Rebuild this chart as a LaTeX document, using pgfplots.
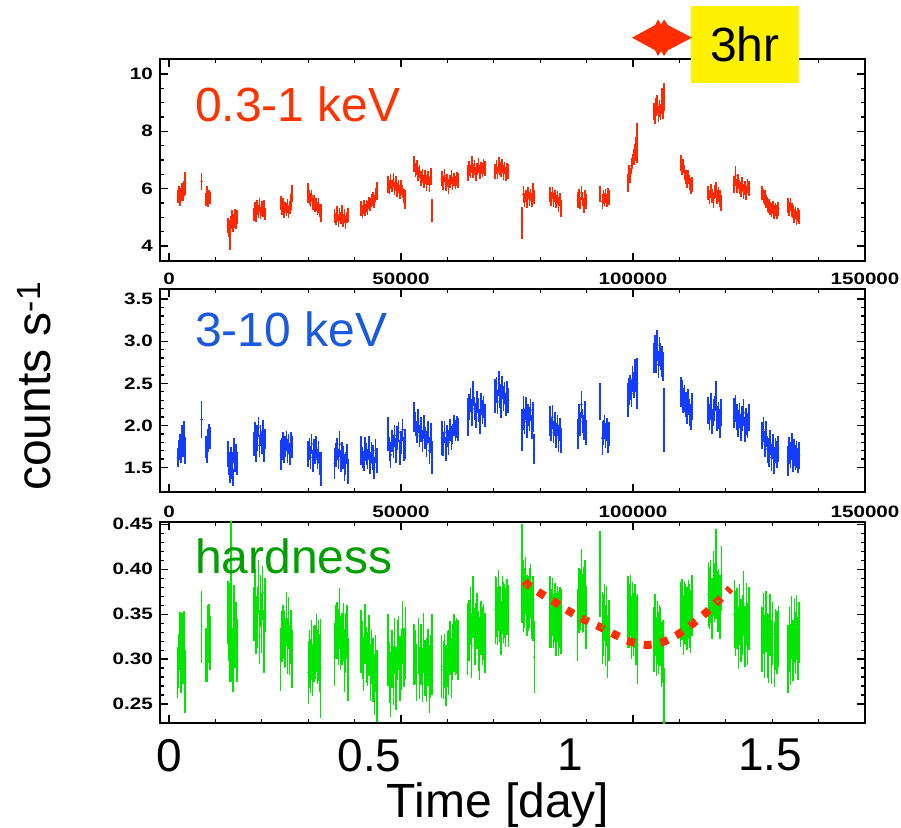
\documentclass[border=0pt]{standalone}
\usepackage{fontspec}
\setmainfont{Liberation Sans}
\newfontfamily\tickfont[FakeStretch=1.25]{Liberation Sans Bold}
\usepackage{pgfplots}
\usepackage{pgfplotstable}
\pgfplotsset{compat=1.18}
\definecolor{softred}{RGB}{255,40,0}
\definecolor{textred}{RGB}{255,51,0}
\definecolor{hardblue}{RGB}{20,60,255}
\definecolor{textblue}{RGB}{25,90,225}
\definecolor{hrgreen}{RGB}{0,230,0}
\definecolor{textgreen}{RGB}{0,160,0}
\definecolor{curvered}{RGB}{255,45,0}

\pgfplotstableread{
t s se h he r re
1900 5.72 0.22 1.62 0.11 0.285 0.028
2120 5.85 0.24 1.71 0.12 0.298 0.030
2340 5.61 0.21 1.78 0.12 0.320 0.032
2560 5.80 0.23 1.66 0.11 0.289 0.027
2780 5.95 0.25 1.88 0.13 0.318 0.033
3000 5.78 0.22 1.74 0.12 0.301 0.029
3220 6.02 0.26 1.92 0.13 0.322 0.031
3440 6.18 0.40 1.70 0.16 0.275 0.035
7040 6.25 0.30 2.07 0.22 0.336 0.040
8000 5.62 0.22 1.74 0.13 0.305 0.030
8210 5.80 0.30 1.66 0.10 0.290 0.015
8420 5.55 0.18 1.82 0.14 0.328 0.032
8630 5.76 0.20 1.90 0.12 0.333 0.028
8840 5.68 0.20 1.85 0.13 0.318 0.030
12700 4.72 0.25 1.66 0.15 0.352 0.035
12917 4.60 0.30 1.55 0.14 0.338 0.040
13134 4.35 0.50 1.48 0.16 0.330 0.055
13351 4.82 0.22 1.62 0.13 0.395 0.060
13568 4.98 0.26 1.52 0.16 0.305 0.030
13785 4.70 0.22 1.38 0.10 0.298 0.035
14002 4.88 0.25 1.70 0.15 0.345 0.038
14219 5.02 0.28 1.58 0.13 0.320 0.030
14436 4.80 0.20 1.66 0.12 0.335 0.028
14650 5.00 0.24 1.55 0.14 0.310 0.035
18300 5.10 0.22 1.78 0.14 0.350 0.030
18540 5.28 0.24 1.92 0.12 0.372 0.028
18780 5.05 0.20 1.70 0.13 0.338 0.032
19020 5.35 0.25 1.85 0.15 0.346 0.034
19260 5.20 0.22 1.98 0.12 0.380 0.030
19500 5.42 0.24 1.76 0.13 0.325 0.030
19740 5.15 0.20 1.88 0.12 0.365 0.029
19980 5.30 0.26 1.80 0.14 0.340 0.033
20220 5.22 0.22 1.95 0.12 0.374 0.030
20460 5.38 0.24 1.72 0.15 0.320 0.035
20700 5.12 0.20 1.84 0.12 0.360 0.030
24100 5.50 0.26 1.65 0.18 0.300 0.035
24340 5.30 0.22 1.72 0.13 0.325 0.028
24580 5.45 0.24 1.80 0.12 0.330 0.030
24820 5.20 0.22 1.68 0.12 0.322 0.032
25060 5.35 0.20 1.75 0.13 0.318 0.027
25300 5.28 0.22 1.82 0.12 0.345 0.030
25540 5.40 0.24 1.70 0.14 0.315 0.031
25780 5.18 0.20 1.78 0.12 0.340 0.029
26020 5.35 0.22 1.66 0.13 0.310 0.028
26260 5.55 0.28 1.80 0.12 0.325 0.030
26500 5.82 0.30 1.74 0.13 0.300 0.032
30000 5.85 0.35 1.66 0.15 0.285 0.035
30245 5.70 0.26 1.72 0.13 0.300 0.032
30490 5.60 0.24 1.62 0.14 0.292 0.030
30735 5.75 0.22 1.78 0.12 0.310 0.033
30980 5.48 0.24 1.58 0.13 0.288 0.029
31225 5.55 0.22 1.70 0.14 0.306 0.031
31470 5.38 0.20 1.66 0.12 0.308 0.030
31715 5.45 0.24 1.74 0.13 0.318 0.032
31960 5.30 0.22 1.60 0.12 0.302 0.030
32205 5.42 0.25 1.68 0.13 0.310 0.034
32450 5.25 0.22 1.55 0.14 0.296 0.032
32700 5.15 0.30 1.48 0.20 0.290 0.055
35700 5.05 0.25 1.55 0.18 0.305 0.035
35964 4.95 0.22 1.65 0.14 0.330 0.030
36228 5.15 0.24 1.72 0.13 0.332 0.032
36492 4.88 0.20 1.60 0.12 0.325 0.031
36756 5.10 0.22 1.78 0.15 0.345 0.034
37020 4.98 0.20 1.58 0.13 0.318 0.030
37284 5.20 0.24 1.68 0.12 0.322 0.029
37548 4.90 0.22 1.62 0.14 0.330 0.032
37812 5.05 0.24 1.50 0.16 0.298 0.035
38076 4.82 0.22 1.55 0.14 0.318 0.033
38340 5.00 0.20 1.66 0.12 0.330 0.030
38600 5.08 0.24 1.45 0.15 0.288 0.035
41400 5.30 0.26 1.70 0.17 0.320 0.035
41683 5.20 0.22 1.62 0.13 0.310 0.032
41966 5.35 0.24 1.58 0.12 0.295 0.030
42249 5.25 0.20 1.72 0.14 0.328 0.033
42532 5.40 0.22 1.66 0.13 0.305 0.031
42815 5.32 0.24 1.60 0.12 0.300 0.030
43098 5.50 0.22 1.74 0.14 0.315 0.034
43381 5.45 0.24 1.55 0.13 0.285 0.032
43664 5.58 0.22 1.68 0.12 0.302 0.030
43947 5.65 0.24 1.62 0.15 0.288 0.036
44230 5.55 0.22 1.50 0.13 0.272 0.034
44513 5.78 0.24 1.70 0.14 0.295 0.032
44800 5.92 0.32 1.58 0.15 0.270 0.040
47200 6.15 0.30 1.90 0.20 0.310 0.040
47485 6.05 0.24 1.72 0.14 0.285 0.034
47770 6.25 0.26 1.65 0.15 0.272 0.036
48055 6.10 0.22 1.82 0.13 0.300 0.032
48340 6.30 0.24 1.75 0.14 0.282 0.033
48625 6.00 0.22 1.88 0.13 0.315 0.031
48910 6.18 0.26 1.70 0.15 0.278 0.035
49195 5.95 0.24 1.85 0.14 0.310 0.033
49480 6.08 0.22 1.92 0.12 0.318 0.030
49765 5.88 0.25 1.68 0.15 0.290 0.036
50050 6.05 0.26 1.80 0.14 0.300 0.034
50335 5.90 0.24 1.95 0.13 0.330 0.035
50620 5.75 0.25 1.72 0.14 0.302 0.033
50900 5.62 0.32 1.78 0.18 0.318 0.040
52800 6.85 0.28 2.10 0.18 0.305 0.034
53100 6.65 0.24 2.02 0.14 0.302 0.030
53400 6.75 0.26 1.92 0.13 0.285 0.032
53700 6.50 0.24 2.05 0.14 0.315 0.031
54000 6.60 0.22 1.88 0.13 0.285 0.029
54300 6.35 0.26 1.95 0.15 0.305 0.034
54600 6.45 0.24 1.82 0.13 0.282 0.030
54900 6.25 0.22 1.98 0.14 0.318 0.033
55200 6.40 0.24 1.85 0.13 0.290 0.031
55500 6.20 0.28 1.78 0.15 0.288 0.036
55800 6.38 0.24 1.92 0.13 0.302 0.032
56100 6.15 0.26 1.70 0.16 0.278 0.038
56400 6.42 0.30 1.85 0.18 0.292 0.035
56700 5.25 0.40 1.62 0.20 0.305 0.045
58800 6.35 0.26 1.85 0.20 0.292 0.035
59092 6.20 0.24 1.78 0.14 0.288 0.032
59384 6.45 0.22 1.92 0.13 0.298 0.030
59676 6.15 0.24 1.72 0.14 0.282 0.034
59968 6.30 0.22 1.88 0.13 0.300 0.031
60260 6.08 0.26 1.80 0.15 0.296 0.036
60552 6.25 0.22 1.95 0.13 0.312 0.030
60844 6.40 0.24 1.85 0.14 0.290 0.033
61136 6.18 0.22 1.90 0.12 0.308 0.031
61428 6.32 0.24 2.00 0.13 0.318 0.032
61720 6.22 0.22 1.94 0.12 0.312 0.030
62012 6.35 0.24 1.98 0.13 0.315 0.031
62300 6.28 0.26 1.95 0.14 0.310 0.033
64400 6.55 0.28 2.10 0.22 0.322 0.040
64685 6.70 0.26 2.22 0.15 0.332 0.034
64970 6.60 0.24 2.30 0.14 0.348 0.032
65255 6.85 0.30 2.15 0.16 0.315 0.036
65540 6.62 0.24 2.38 0.15 0.358 0.035
65825 6.75 0.26 2.20 0.14 0.325 0.032
66110 6.50 0.24 2.12 0.15 0.328 0.034
66395 6.68 0.22 2.28 0.13 0.342 0.031
66680 6.80 0.26 2.18 0.14 0.320 0.033
66965 6.58 0.24 2.05 0.15 0.312 0.035
67250 6.72 0.22 2.25 0.13 0.335 0.030
67535 6.65 0.24 2.16 0.14 0.326 0.032
67820 6.78 0.26 2.22 0.13 0.330 0.031
68100 6.70 0.25 2.12 0.14 0.318 0.033
70300 6.60 0.26 2.35 0.20 0.355 0.038
70555 6.75 0.24 2.42 0.15 0.358 0.033
70810 6.55 0.22 2.28 0.14 0.348 0.032
71065 6.85 0.26 2.50 0.15 0.365 0.034
71320 6.70 0.24 2.35 0.14 0.350 0.031
71575 6.62 0.22 2.22 0.13 0.335 0.030
71830 6.80 0.24 2.45 0.14 0.360 0.032
72085 6.58 0.26 2.32 0.15 0.352 0.034
72340 6.72 0.22 2.38 0.13 0.354 0.030
72595 6.50 0.24 2.25 0.14 0.346 0.033
72850 6.68 0.22 2.40 0.13 0.358 0.031
73100 6.60 0.25 2.30 0.15 0.348 0.034
76100 4.80 0.55 1.95 0.25 0.395 0.055
76360 5.80 0.30 2.15 0.20 0.370 0.040
76620 5.60 0.24 2.05 0.15 0.368 0.033
76880 5.75 0.22 2.20 0.14 0.382 0.032
77140 5.55 0.24 2.00 0.15 0.360 0.034
77400 5.85 0.22 2.12 0.13 0.362 0.031
77660 5.65 0.24 2.08 0.14 0.368 0.033
77920 5.78 0.22 2.18 0.13 0.376 0.030
78180 5.60 0.24 1.98 0.14 0.354 0.032
78440 5.90 0.30 2.10 0.18 0.356 0.036
78700 5.70 0.25 1.72 0.18 0.302 0.040
82100 5.80 0.26 2.05 0.18 0.352 0.040
82367 5.65 0.24 1.95 0.14 0.345 0.033
82634 5.85 0.22 2.10 0.14 0.358 0.032
82901 5.60 0.24 1.92 0.13 0.342 0.030
83168 5.75 0.22 2.02 0.14 0.352 0.033
83435 5.55 0.24 1.88 0.15 0.338 0.035
83702 5.70 0.22 2.00 0.13 0.350 0.031
83969 5.45 0.26 1.85 0.16 0.340 0.036
84236 5.62 0.24 1.95 0.14 0.346 0.034
84500 5.30 0.30 1.82 0.15 0.342 0.036
88100 5.60 0.28 1.90 0.18 0.338 0.040
88357 5.75 0.24 2.10 0.15 0.365 0.036
88614 5.50 0.22 2.02 0.14 0.366 0.034
88871 5.85 0.26 2.25 0.16 0.384 0.038
89128 5.65 0.24 2.05 0.14 0.362 0.033
89385 5.40 0.26 1.98 0.15 0.366 0.036
89642 5.70 0.24 2.15 0.14 0.376 0.034
89900 5.55 0.25 1.92 0.15 0.346 0.035
92900 5.80 0.28 2.28 0.22 0.395 0.048
93400 5.55 0.26 1.85 0.20 0.335 0.040
93633 5.70 0.24 1.92 0.15 0.338 0.034
93866 5.62 0.22 1.98 0.14 0.352 0.032
94099 5.75 0.24 1.88 0.15 0.326 0.034
94332 5.58 0.22 1.95 0.14 0.348 0.033
94565 5.80 0.24 1.82 0.15 0.314 0.035
94800 5.68 0.26 1.90 0.14 0.332 0.034
98900 6.20 0.30 2.30 0.20 0.352 0.040
99150 6.55 0.28 2.40 0.16 0.348 0.036
99400 6.45 0.26 2.45 0.15 0.360 0.034
99650 6.80 0.28 2.38 0.16 0.335 0.035
99900 6.95 0.26 2.55 0.15 0.352 0.034
100150 7.10 0.28 2.48 0.16 0.338 0.035
100400 7.25 0.30 2.62 0.17 0.348 0.036
100650 7.45 0.35 2.58 0.18 0.332 0.038
100900 7.60 0.70 2.50 0.30 0.322 0.050
104500 8.70 0.30 2.80 0.18 0.322 0.036
104744 8.55 0.28 2.90 0.17 0.338 0.034
104988 8.85 0.30 2.78 0.16 0.314 0.033
105232 8.95 0.32 2.95 0.18 0.330 0.035
105476 8.60 0.28 2.72 0.16 0.318 0.034
105720 8.80 0.30 2.88 0.17 0.326 0.034
105964 8.68 0.28 2.82 0.16 0.325 0.033
106208 9.05 0.45 2.76 0.18 0.305 0.036
106452 8.75 0.32 2.70 0.17 0.308 0.035
106700 9.20 0.50 2.06 0.38 0.250 0.040
110300 6.90 0.28 2.40 0.18 0.350 0.036
110567 6.75 0.26 2.38 0.16 0.355 0.034
110834 6.80 0.24 2.30 0.15 0.338 0.033
111101 6.55 0.26 2.32 0.16 0.352 0.035
111368 6.40 0.24 2.25 0.15 0.350 0.034
111635 6.30 0.26 2.18 0.16 0.345 0.035
111902 6.42 0.24 2.28 0.15 0.355 0.033
112169 6.20 0.26 2.15 0.16 0.348 0.036
112436 6.10 0.28 2.10 0.15 0.342 0.035
112700 6.15 0.26 2.22 0.16 0.360 0.034
116200 5.85 0.26 2.18 0.16 0.372 0.036
116480 5.70 0.24 2.10 0.15 0.368 0.034
116760 5.92 0.26 2.22 0.16 0.375 0.035
117040 5.75 0.24 2.05 0.15 0.356 0.034
117320 5.60 0.26 2.15 0.16 0.384 0.036
117600 5.88 0.24 2.20 0.15 0.374 0.033
117880 5.95 0.28 2.35 0.18 0.395 0.050
118160 5.72 0.24 2.08 0.15 0.364 0.034
118440 5.80 0.26 2.12 0.16 0.365 0.035
118720 5.65 0.30 2.02 0.17 0.358 0.036
119000 5.50 0.28 2.15 0.16 0.390 0.036
121800 6.15 0.30 2.15 0.18 0.350 0.038
122090 6.45 0.35 2.20 0.16 0.340 0.036
122380 6.10 0.24 2.10 0.15 0.345 0.034
122670 6.25 0.26 2.02 0.16 0.324 0.035
122960 6.05 0.24 2.12 0.15 0.350 0.034
123250 5.98 0.26 1.98 0.16 0.332 0.035
123540 6.15 0.24 2.08 0.15 0.338 0.033
123830 5.90 0.26 2.15 0.16 0.362 0.036
124120 6.02 0.24 1.95 0.15 0.325 0.034
124410 5.85 0.26 2.05 0.16 0.350 0.035
124700 6.10 0.24 2.00 0.15 0.328 0.034
125000 6.00 0.26 2.10 0.16 0.345 0.035
127800 5.85 0.26 1.88 0.16 0.322 0.036
128092 5.75 0.24 1.95 0.15 0.340 0.034
128384 5.68 0.26 1.78 0.16 0.314 0.035
128676 5.55 0.24 1.90 0.15 0.342 0.034
128968 5.45 0.26 1.72 0.16 0.315 0.036
129260 5.40 0.24 1.68 0.17 0.312 0.038
129552 5.32 0.22 1.80 0.15 0.338 0.034
129844 5.25 0.24 1.62 0.16 0.308 0.036
130136 5.35 0.22 1.75 0.15 0.328 0.035
130428 5.20 0.24 1.58 0.16 0.305 0.036
130720 5.28 0.22 1.70 0.15 0.322 0.034
131012 5.18 0.24 1.65 0.16 0.318 0.035
131300 5.30 0.24 1.72 0.15 0.325 0.034
133400 5.40 0.26 1.58 0.18 0.300 0.038
133667 5.30 0.24 1.70 0.16 0.322 0.036
133934 5.45 0.22 1.65 0.15 0.305 0.034
134201 5.25 0.24 1.75 0.16 0.335 0.035
134468 5.20 0.22 1.60 0.15 0.310 0.034
134735 5.05 0.24 1.68 0.16 0.332 0.036
135002 5.15 0.22 1.62 0.15 0.318 0.034
135269 4.98 0.24 1.66 0.16 0.335 0.036
135536 5.10 0.22 1.58 0.15 0.312 0.035
135800 5.02 0.24 1.64 0.16 0.330 0.034
}\lc

\pgfplotsset{
  panel/.style={
    scale only axis, width=705pt, anchor=south west,
    xmin=-1940, xmax=150000,
    xtick={0,50000,100000,150000}, minor x tick num=4,
    scaled x ticks=false, scaled y ticks=false,
    tick align=inside,
    xtick pos=both, ytick pos=both,
    xticklabel pos=bottom, yticklabel pos=left,
    axis line style={line width=1.8pt},
    every tick/.style={black, line width=1.3pt},
    major tick length=8pt, minor tick length=4pt,
    /pgf/number format/assume math mode=true,
    tick label style={font=\tickfont\fontsize{16.5}{16.5}\selectfont, inner sep=0pt},
    xticklabel style={/pgf/number format/.cd, fixed, precision=0, set thousands separator={}},
    xticklabel shift=12pt, yticklabel shift=7pt,
  },
  ebars/.style={only marks, mark=*, color=#1,
    error bars/.cd, y dir=both, y explicit,
    error bar style={line width=1.6pt, color=#1}, error mark=none},
}

\begin{document}
\begin{tikzpicture}
\path[use as bounding box] (0pt,0pt) rectangle (901pt,827pt);

% top panel
\begin{axis}[panel, at={(160pt,566pt)}, height=202pt,
  ymin=3.48, ymax=10.52, ytick={4,6,8,10}, minor y tick num=3,
  yticklabel style={/pgf/number format/.cd, fixed, precision=0}]
\addplot[mark size=1pt, ebars=softred] table[x=t, y=s, y error=se] {\lc};
\end{axis}

% middle panel
\begin{axis}[panel, at={(160pt,335pt)}, height=203pt,
  ymin=1.21, ymax=3.62, ytick={1.5,2.0,2.5,3.0,3.5}, minor y tick num=4,
  yticklabel style={/pgf/number format/.cd, fixed, fixed zerofill, precision=1},
  xticklabel shift=14pt]
\addplot[mark size=1pt, ebars=hardblue] table[x=t, y=h, y error=he] {\lc};
\end{axis}

% bottom panel
\begin{axis}[panel, at={(160pt,104pt)}, height=201pt,
  ymin=0.229, ymax=0.4525, ytick={0.25,0.30,0.35,0.40,0.45}, minor y tick num=4,
  yticklabel style={/pgf/number format/.cd, fixed, fixed zerofill, precision=2},
  xticklabels={},
  extra x ticks={0,43200,86400,129600},
  extra x tick labels={0,0.5,1,1.5},
  extra x tick style={major tick length=0pt, xticklabel shift=16pt,
    tick label style={font=\normalfont\fontsize{46}{46}\selectfont}}]
\addplot[mark size=0.8pt, ebars=hrgreen, /pgfplots/error bars/error bar style={line width=1.3pt}] table[x=t, y=r, y error=re] {\lc};
\addplot[color=curvered, line width=8pt, dash pattern=on 8pt off 9pt, smooth, no marks] coordinates {
(76600,0.3865) (77440,0.3824) (80390,0.3721) (83470,0.3625) (86420,0.3526) (89510,0.3438)
(92820,0.3360) (95980,0.3276) (99350,0.3195) (102800,0.3158) (106250,0.3188)
(109480,0.3268) (112280,0.3371) (115230,0.3493) (117740,0.3618) (120330,0.3750) (121000,0.3785)};
\end{axis}

% panel labels
\node[anchor=base west, inner sep=0pt, text=textred, font=\fontsize{48}{48}\selectfont] at (195pt,705pt) {0.3-1 keV};
\node[anchor=base west, inner sep=0pt, text=textblue, font=\fontsize{48}{48}\selectfont] at (195pt,480pt) {3-10 keV};
\node[anchor=base west, inner sep=0pt, text=textgreen, font=\fontsize{48}{48}\selectfont] at (195pt,253.7pt) {hardness};

% 3hr box and arrow
\fill[yellow] (691pt,744pt) rectangle (799pt,821pt);
\node[anchor=base west, inner sep=0pt, font=\fontsize{48}{48}\selectfont] at (710pt,765.3pt) {3hr};
\fill[curvered] (632pt,789.3pt) -- (655pt,801.8pt) -- (658pt,807.5pt) -- (661pt,802.5pt) -- (664pt,807.5pt) -- (668pt,801.8pt)
  -- (692pt,789.3pt) -- (668pt,776.8pt) -- (664pt,771pt) -- (661pt,776pt) -- (658pt,771pt) -- (655pt,776.8pt) -- cycle;

% axis titles
\node[anchor=base west, inner sep=0pt, rotate=90, font=\fontsize{48}{48}\selectfont] at (50pt,336pt) {counts s\textsuperscript{-1}};
\node[anchor=base, inner sep=0pt, font=\fontsize{48}{48}\selectfont] at (498pt,10pt) {Time [day]};
\end{tikzpicture}
\end{document}
